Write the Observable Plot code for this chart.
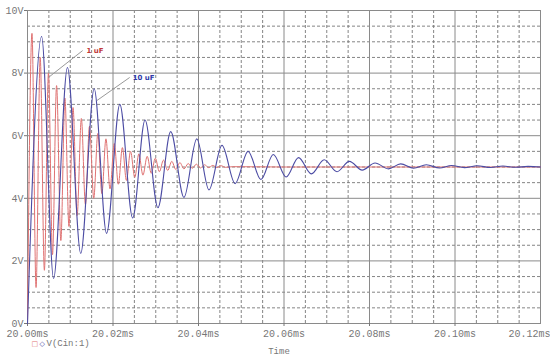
<!DOCTYPE html>
<html>
<head>
<meta charset="utf-8">
<script src="https://cdn.jsdelivr.net/npm/d3@7"></script>
<script src="https://cdn.jsdelivr.net/npm/@observablehq/plot@0.6"></script>
<style>
  html, body { margin: 0; padding: 0; background: #fff; }
</style>
</head>
<body>
<div id="chart"></div>
<script>
// Time in µs after 20.00 ms; voltage in V. Extremum points.
const red1uF_t = [0, 1.05, 2.0, 2.97, 3.95, 4.9, 5.85, 6.8, 7.8, 8.75, 9.7, 10.65, 11.6, 12.6, 13.55, 14.5, 15.5, 16.45, 17.4, 18.35, 19.3, 20.3, 21.25, 22.2, 23.15, 24.1, 25.1, 26.05, 27.0, 28.0, 28.95, 29.9, 30.85, 31.8, 32.8, 33.75, 34.7, 35.65, 36.6, 37.6, 38.55, 39.5, 40.45, 41.4, 42.4, 43.35, 44.3, 45.3, 46.25, 48, 60, 80, 100, 120];
const red1uF_v = [0, 9.27, 1.15, 8.5, 1.7, 8.0, 2.2, 7.6, 2.65, 7.2, 3.1, 6.9, 3.45, 6.55, 3.8, 6.3, 4.0, 6.07, 4.15, 5.9, 4.3, 5.75, 4.45, 5.62, 4.57, 5.5, 4.67, 5.42, 4.74, 5.34, 4.8, 5.28, 4.85, 5.22, 4.89, 5.18, 4.92, 5.14, 4.94, 5.11, 4.96, 5.09, 4.97, 5.07, 4.98, 5.05, 4.985, 5.04, 4.99, 5.01, 5.0, 5.0, 5.0, 5.0];

const blue10uF_t = [0, 3.3, 6.1, 9.35, 12.45, 15.6, 18.5, 21.6, 24.6, 27.5, 30.5, 33.5, 36.6, 39.6, 42.45, 45.5, 48.55, 51.6, 54.6, 57.5, 60.5, 63.4, 66.4, 69.4, 72.4, 75.3, 78.3, 81.3, 84.4, 87.3, 90.3, 93.3, 96.4, 99.2, 102.2, 105.2, 108.3, 111.2, 114.2, 117.1, 120];
const blue10uF_v = [0, 9.17, 1.44, 8.18, 2.24, 7.5, 2.88, 7.0, 3.37, 6.5, 3.7, 6.13, 4.03, 5.9, 4.27, 5.69, 4.47, 5.5, 4.6, 5.4, 4.68, 5.3, 4.78, 5.23, 4.85, 5.18, 4.9, 5.13, 4.94, 5.1, 4.96, 5.07, 4.97, 5.05, 4.98, 5.04, 4.985, 5.03, 4.99, 5.02, 5.0];

const xTicks = [0, 20, 40, 60, 80, 100, 120];
const xTickLabels = ["20.00ms", "20.02ms", "20.04ms", "20.06ms", "20.08ms", "20.10ms", "20.12ms"];
const yTicks = [0, 2, 4, 6, 8, 10];
const yTickLabels = ["0V", "2V", "4V", "6V", "8V", "10V"];

const annotLabels = ["1 uF", "10 uF"];
const annotLabelT = [13.8, 24.6];
const annotLabelV = [8.7, 7.86];
const annotFromT = [4.9, 16.2];
const annotFromV = [7.86, 7.12];
const annotToT = [12.9, 23.9];
const annotToV = [8.72, 7.86];

const legendLabel = "V(Cin:1)";
const xLabel = "Time";

const redData = red1uF_t.map((t, i) => ({t, v: red1uF_v[i]}));
const blueData = blue10uF_t.map((t, i) => ({t, v: blue10uF_v[i]}));
const annots = annotLabels.map((label, i) => ({
  label, lt: annotLabelT[i], lv: annotLabelV[i],
  x1: annotFromT[i], y1: annotFromV[i], x2: annotToT[i], y2: annotToV[i]
}));

const xMinor = d3.range(0, 120.01, 5).filter(d => d % 20 !== 0);
const yMinor = d3.range(0, 10.01, 0.5).filter(d => d % 2 !== 0);
const xLabelFmt = d => xTickLabels[xTicks.indexOf(d)];

const RED = "#e07272";
const BLUE = "#4c4ca4";
const GRID = "#8a8a8a";

const chart = Plot.plot({
  width: 550,
  height: 356,
  marginLeft: 27,
  marginRight: 10,
  marginTop: 10,
  marginBottom: 33,
  style: {fontFamily: "'Liberation Mono', 'DejaVu Sans Mono', monospace", fontSize: "10px", color: "#777", background: "#fff"},
  x: {domain: [0, 120]},
  y: {domain: [0, 10]},
  marks: [
    Plot.ruleX(xMinor, {stroke: "#777", strokeDasharray: "3,2", strokeWidth: 0.9}),
    Plot.ruleY(yMinor, {stroke: "#777", strokeDasharray: "3,2", strokeWidth: 0.9}),
    Plot.ruleX(xTicks, {stroke: GRID, strokeWidth: 1}),
    Plot.ruleY(yTicks, {stroke: GRID, strokeWidth: 1}),
    Plot.frame({stroke: GRID}),
    Plot.axisX(xTicks.slice(0, -1), {tickFormat: xLabelFmt, tickSize: 3, tickPadding: 3, label: null}),
    Plot.axisX(xTicks.slice(-1), {tickFormat: xLabelFmt, tickSize: 3, tickPadding: 3, label: null, textAnchor: "end", dx: 10}),
    Plot.axisY(yTicks, {tickFormat: d => yTickLabels[yTicks.indexOf(d)], tickSize: 3, tickPadding: 1, label: null}),
    Plot.line(redData, {x: "t", y: "v", stroke: RED, strokeWidth: 1, curve: "monotone-x"}),
    Plot.line(blueData, {x: "t", y: "v", stroke: BLUE, strokeWidth: 1.1, curve: "monotone-x"}),
    Plot.link(annots, {x1: "x1", y1: "y1", x2: "x2", y2: "y2", stroke: "#999", strokeWidth: 1}),
    Plot.text(annots, {x: "lt", y: "lv", text: "label", textAnchor: "start",
      fill: (d, i) => i === 0 ? "#c03838" : "#2f3aa8", fontWeight: "bold", fontSize: 7, fontFamily: "'DejaVu Sans', sans-serif"}),
    Plot.text([xLabel], {text: d => d, frameAnchor: "bottom", dx: -5, dy: 30, fill: "#777", fontSize: 9}),
    Plot.text(["□"], {text: d => d, frameAnchor: "bottom-left", dx: 4, dy: 22, fill: RED, fontSize: 7, fontFamily: "'DejaVu Sans', sans-serif"}),
    Plot.text(["◇"], {text: d => d, frameAnchor: "bottom-left", dx: 12, dy: 22, fill: BLUE, fontSize: 7, fontFamily: "'DejaVu Sans', sans-serif"}),
    Plot.text([legendLabel], {text: d => d, frameAnchor: "bottom-left", textAnchor: "start", dx: 19, dy: 22, fill: "#777", fontSize: 9})
  ]
});
document.getElementById("chart").appendChild(chart);
</script>
</body>
</html>
